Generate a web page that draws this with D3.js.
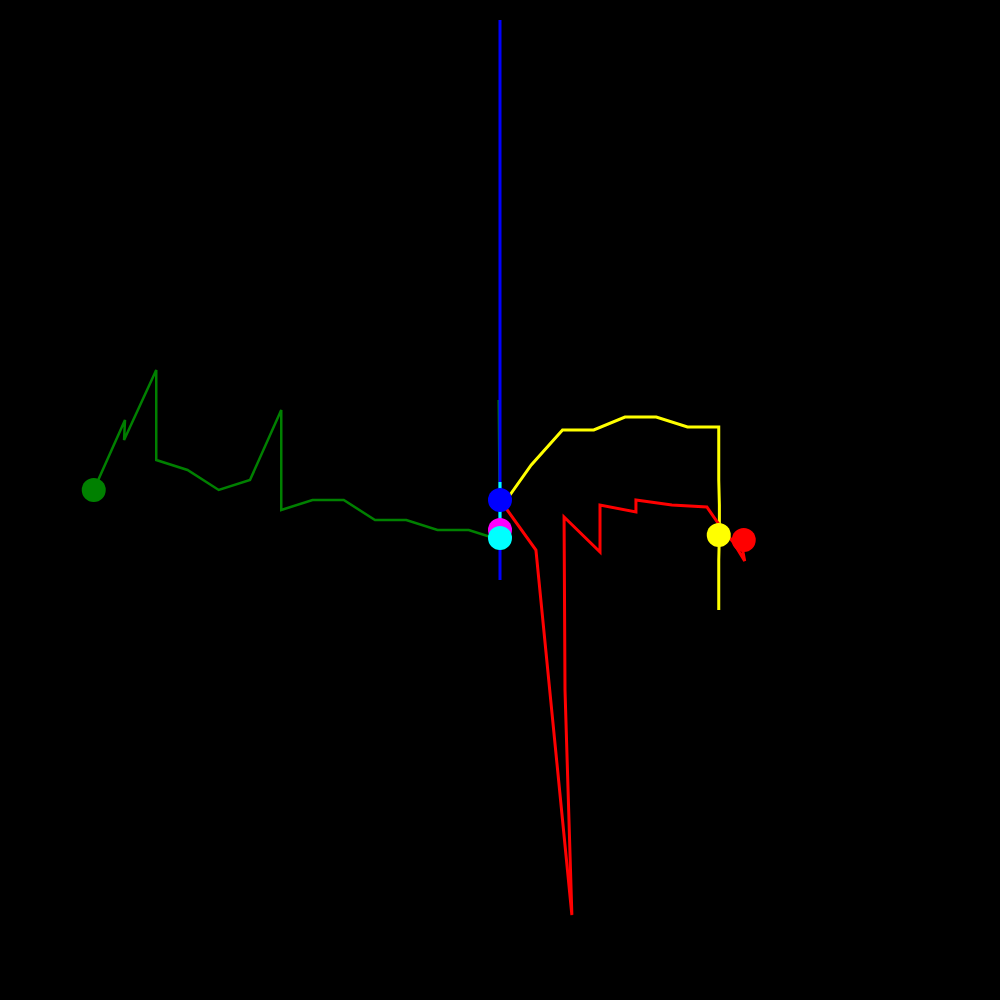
<!DOCTYPE html>
<html>
<head>
<meta charset="utf-8">
<script src="https://cdn.jsdelivr.net/npm/d3@7"></script>
<style>
html,body{margin:0;padding:0;background:#000;}
svg{display:block;background:#000;}
</style>
</head>
<body>
<svg id="chart" width="1000" height="1000"></svg>
<script>
// Series data (x, y in data units)
const greenX = [-13, -12, -12.03, -11, -11, -10, -9, -8, -7, -7, -6, -5, -4, -3, -2, -1, 0, -0.04];
const greenY = [1, 8, 6, 13, 4, 3, 1, 2, 9, -1, 0, 0, -2, -2, -3, -3, -4, 10];
const blueX = [0, 0];
const blueY = [48, -8];
const cyanX = [0, 0];
const cyanY = [1.8, -3.8];
const yellowX = [0, 1, 2, 3, 4, 5, 6, 7, 7, 7.02, 7.02, 7, 7];
const yellowY = [-0.9, 3.5, 7, 7, 8.3, 8.3, 7.3, 7.3, 2, -0.5, -3.5, -6, -11];
const redX = [0, 1.15, 2.3, 2.08, 2.05, 3.2, 3.2, 4.35, 4.35, 5.5, 6.62, 7, 7.46, 7.83, 7.74];
const redY = [0, -5, -41.5, -19, -1.7, -5.2, -0.5, -1.2, 0, -0.5, -0.7, -2.4, -4.2, -6.1, -4.6];

// Marker points
const markerNames = ["green", "blue", "magenta", "cyan", "yellow", "red"];
const markerX = [-13, 0, 0, 0, 7, 7.8];
const markerY = [1, 0, -3, -3.8, -3.5, -4];
const markerColors = ["#008000", "#0000ff", "#ff00ff", "#00ffff", "#ffff00", "#ff0000"];

const svg = d3.select("#chart");
const x = d3.scaleLinear().domain([-16, 16]).range([0, 1000]);
const y = d3.scaleLinear().domain([50, -50]).range([0, 1000]);

const line = d3.line().x(d => x(d[0])).y(d => y(d[1]));
const zip = (a, b) => a.map((v, i) => [v, b[i]]);

const series = [
  {xs: greenX, ys: greenY, color: "#008000", w: 2.5},
  {xs: blueX, ys: blueY, color: "#0000ff", w: 3},
  {xs: cyanX, ys: cyanY, color: "#00ffff", w: 3},
  {xs: yellowX, ys: yellowY, color: "#ffff00", w: 3},
  {xs: redX, ys: redY, color: "#ff0000", w: 3}
];

svg.selectAll("path.series").data(series).enter().append("path")
  .attr("class", "series")
  .attr("d", s => line(zip(s.xs, s.ys)))
  .attr("fill", "none")
  .attr("stroke", s => s.color)
  .attr("stroke-width", s => s.w)
  .attr("stroke-linejoin", "miter")
  .attr("stroke-miterlimit", 4);

svg.selectAll("circle.marker").data(markerNames).enter().append("circle")
  .attr("class", "marker")
  .attr("cx", (d, i) => x(markerX[i]))
  .attr("cy", (d, i) => y(markerY[i]))
  .attr("r", 12)
  .attr("fill", (d, i) => markerColors[i]);
</script>
</body>
</html>
